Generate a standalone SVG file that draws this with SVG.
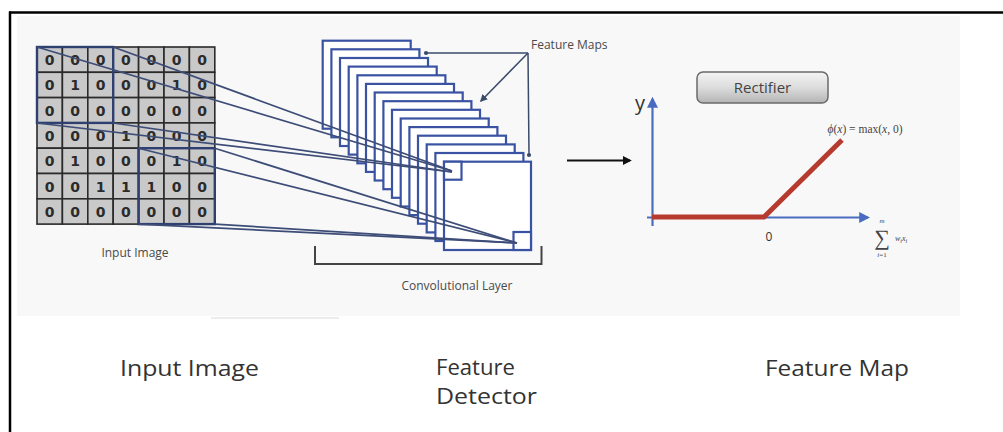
<svg xmlns="http://www.w3.org/2000/svg" width="1003" height="432" viewBox="0 0 1003 432">
  <defs>
    <linearGradient id="btnGrad" x1="0" y1="0" x2="0" y2="1">
      <stop offset="0" stop-color="#f4f4f4"/>
      <stop offset="0.5" stop-color="#dcdcdc"/>
      <stop offset="1" stop-color="#b4b4b4"/>
    </linearGradient>
    <marker id="axisHead" viewBox="0 0 10 10" refX="8" refY="5" markerWidth="5" markerHeight="5" orient="auto">
      <path d="M0,0 L10,5 L0,10 z" fill="#4a6cc0"/>
    </marker>
    <marker id="blackHead" viewBox="0 0 10 10" refX="8" refY="5" markerWidth="5" markerHeight="5" orient="auto">
      <path d="M0,0 L10,5 L0,10 z" fill="#111"/>
    </marker>
    <marker id="grayHead" viewBox="0 0 10 10" refX="8" refY="5" markerWidth="5" markerHeight="5" orient="auto">
      <path d="M0,0 L10,5 L0,10 z" fill="#3b4a6b"/>
    </marker>
    <marker id="dot" viewBox="0 0 10 10" refX="5" refY="5" markerWidth="3.5" markerHeight="3.5">
      <circle cx="5" cy="5" r="4" fill="#3b4a6b"/>
    </marker>
  </defs>
  <style>
    .cell { fill: #c9c9c9; stroke: #2a2a2a; stroke-width: 1.6; }
    .digit { font-family: "DejaVu Sans", "Liberation Sans", sans-serif; font-size: 14px; font-weight: bold; fill: #2b2b2b; text-anchor: middle; }
    .fmap { fill: #ffffff; stroke: #3a52a2; stroke-width: 2.2; }
    .link { stroke: #3d4d78; stroke-width: 1.7; fill: none; }
    .field { stroke: #2e3f70; stroke-width: 2.4; fill: none; }
    .small { font-family: "Open Sans", "Liberation Sans", sans-serif; font-size: 12px; fill: #4a4a4a; }
    .caption { font-family: "Open Sans", "Liberation Sans", sans-serif; font-size: 22px; fill: #333333; }
    .math { font-family: "Liberation Serif", serif; fill: #444; }
  </style>

  <!-- page frame -->
  <rect x="0" y="0" width="1003" height="432" fill="#ffffff"/>
  <rect x="17" y="16" width="943" height="300" fill="#f8f8f8"/>
  <rect x="211" y="317" width="128" height="2" fill="#ececec"/>
  <line x1="9" y1="12.5" x2="1003" y2="12.5" stroke="#000" stroke-width="2.5"/>
  <line x1="10" y1="11.5" x2="10" y2="432" stroke="#000" stroke-width="2.5"/>

  <!-- input image grid -->
  <g id="input-grid">
    <g>
      <rect class="cell" x="37" y="47" width="25.4" height="25.3"/><rect class="cell" x="62.4" y="47" width="25.4" height="25.3"/><rect class="cell" x="87.8" y="47" width="25.4" height="25.3"/><rect class="cell" x="113.2" y="47" width="25.4" height="25.3"/><rect class="cell" x="138.6" y="47" width="25.4" height="25.3"/><rect class="cell" x="164" y="47" width="25.4" height="25.3"/><rect class="cell" x="189.4" y="47" width="25.4" height="25.3"/>
      <rect class="cell" x="37" y="72.3" width="25.4" height="25.3"/><rect class="cell" x="62.4" y="72.3" width="25.4" height="25.3"/><rect class="cell" x="87.8" y="72.3" width="25.4" height="25.3"/><rect class="cell" x="113.2" y="72.3" width="25.4" height="25.3"/><rect class="cell" x="138.6" y="72.3" width="25.4" height="25.3"/><rect class="cell" x="164" y="72.3" width="25.4" height="25.3"/><rect class="cell" x="189.4" y="72.3" width="25.4" height="25.3"/>
      <rect class="cell" x="37" y="97.6" width="25.4" height="25.3"/><rect class="cell" x="62.4" y="97.6" width="25.4" height="25.3"/><rect class="cell" x="87.8" y="97.6" width="25.4" height="25.3"/><rect class="cell" x="113.2" y="97.6" width="25.4" height="25.3"/><rect class="cell" x="138.6" y="97.6" width="25.4" height="25.3"/><rect class="cell" x="164" y="97.6" width="25.4" height="25.3"/><rect class="cell" x="189.4" y="97.6" width="25.4" height="25.3"/>
      <rect class="cell" x="37" y="122.9" width="25.4" height="25.3"/><rect class="cell" x="62.4" y="122.9" width="25.4" height="25.3"/><rect class="cell" x="87.8" y="122.9" width="25.4" height="25.3"/><rect class="cell" x="113.2" y="122.9" width="25.4" height="25.3"/><rect class="cell" x="138.6" y="122.9" width="25.4" height="25.3"/><rect class="cell" x="164" y="122.9" width="25.4" height="25.3"/><rect class="cell" x="189.4" y="122.9" width="25.4" height="25.3"/>
      <rect class="cell" x="37" y="148.2" width="25.4" height="25.3"/><rect class="cell" x="62.4" y="148.2" width="25.4" height="25.3"/><rect class="cell" x="87.8" y="148.2" width="25.4" height="25.3"/><rect class="cell" x="113.2" y="148.2" width="25.4" height="25.3"/><rect class="cell" x="138.6" y="148.2" width="25.4" height="25.3"/><rect class="cell" x="164" y="148.2" width="25.4" height="25.3"/><rect class="cell" x="189.4" y="148.2" width="25.4" height="25.3"/>
      <rect class="cell" x="37" y="173.5" width="25.4" height="25.3"/><rect class="cell" x="62.4" y="173.5" width="25.4" height="25.3"/><rect class="cell" x="87.8" y="173.5" width="25.4" height="25.3"/><rect class="cell" x="113.2" y="173.5" width="25.4" height="25.3"/><rect class="cell" x="138.6" y="173.5" width="25.4" height="25.3"/><rect class="cell" x="164" y="173.5" width="25.4" height="25.3"/><rect class="cell" x="189.4" y="173.5" width="25.4" height="25.3"/>
      <rect class="cell" x="37" y="198.8" width="25.4" height="25.3"/><rect class="cell" x="62.4" y="198.8" width="25.4" height="25.3"/><rect class="cell" x="87.8" y="198.8" width="25.4" height="25.3"/><rect class="cell" x="113.2" y="198.8" width="25.4" height="25.3"/><rect class="cell" x="138.6" y="198.8" width="25.4" height="25.3"/><rect class="cell" x="164" y="198.8" width="25.4" height="25.3"/><rect class="cell" x="189.4" y="198.8" width="25.4" height="25.3"/>
    </g>
    <g>
      <text class="digit" x="49.7" y="65">0</text><text class="digit" x="75.1" y="65">0</text><text class="digit" x="100.5" y="65">0</text><text class="digit" x="125.9" y="65">0</text><text class="digit" x="151.3" y="65">0</text><text class="digit" x="176.7" y="65">0</text><text class="digit" x="202.1" y="65">0</text>
      <text class="digit" x="49.7" y="90.3">0</text><text class="digit" x="75.1" y="90.3">1</text><text class="digit" x="100.5" y="90.3">0</text><text class="digit" x="125.9" y="90.3">0</text><text class="digit" x="151.3" y="90.3">0</text><text class="digit" x="176.7" y="90.3">1</text><text class="digit" x="202.1" y="90.3">0</text>
      <text class="digit" x="49.7" y="115.6">0</text><text class="digit" x="75.1" y="115.6">0</text><text class="digit" x="100.5" y="115.6">0</text><text class="digit" x="125.9" y="115.6">0</text><text class="digit" x="151.3" y="115.6">0</text><text class="digit" x="176.7" y="115.6">0</text><text class="digit" x="202.1" y="115.6">0</text>
      <text class="digit" x="49.7" y="140.9">0</text><text class="digit" x="75.1" y="140.9">0</text><text class="digit" x="100.5" y="140.9">0</text><text class="digit" x="125.9" y="140.9">1</text><text class="digit" x="151.3" y="140.9">0</text><text class="digit" x="176.7" y="140.9">0</text><text class="digit" x="202.1" y="140.9">0</text>
      <text class="digit" x="49.7" y="166.2">0</text><text class="digit" x="75.1" y="166.2">1</text><text class="digit" x="100.5" y="166.2">0</text><text class="digit" x="125.9" y="166.2">0</text><text class="digit" x="151.3" y="166.2">0</text><text class="digit" x="176.7" y="166.2">1</text><text class="digit" x="202.1" y="166.2">0</text>
      <text class="digit" x="49.7" y="191.5">0</text><text class="digit" x="75.1" y="191.5">0</text><text class="digit" x="100.5" y="191.5">1</text><text class="digit" x="125.9" y="191.5">1</text><text class="digit" x="151.3" y="191.5">1</text><text class="digit" x="176.7" y="191.5">0</text><text class="digit" x="202.1" y="191.5">0</text>
      <text class="digit" x="49.7" y="216.8">0</text><text class="digit" x="75.1" y="216.8">0</text><text class="digit" x="100.5" y="216.8">0</text><text class="digit" x="125.9" y="216.8">0</text><text class="digit" x="151.3" y="216.8">0</text><text class="digit" x="176.7" y="216.8">0</text><text class="digit" x="202.1" y="216.8">0</text>
    </g>
    <!-- receptive fields -->
    <rect class="field" x="37" y="47" width="76.2" height="75.9"/>
    <rect class="field" x="138.6" y="148.2" width="76.2" height="75.9"/>
    <text class="small" x="135" y="257" text-anchor="middle">Input Image</text>
  </g>

  <!-- stacked feature maps -->
  <g id="feature-maps">
    <rect class="fmap" x="322.7" y="40.7" width="88" height="88"/>
    <rect class="fmap" x="331.4" y="49.3" width="88" height="88"/>
    <rect class="fmap" x="340.0" y="58.0" width="88" height="88"/>
    <rect class="fmap" x="348.7" y="66.6" width="88" height="88"/>
    <rect class="fmap" x="357.4" y="75.3" width="88" height="88"/>
    <rect class="fmap" x="366.0" y="83.9" width="88" height="88"/>
    <rect class="fmap" x="374.7" y="92.5" width="88" height="88"/>
    <rect class="fmap" x="383.4" y="101.2" width="88" height="88"/>
    <rect class="fmap" x="392.0" y="109.8" width="88" height="88"/>
    <rect class="fmap" x="400.7" y="118.5" width="88" height="88"/>
    <rect class="fmap" x="409.4" y="127.1" width="88" height="88"/>
    <rect class="fmap" x="418.0" y="135.7" width="88" height="88"/>
    <rect class="fmap" x="426.7" y="144.4" width="88" height="88"/>
    <rect class="fmap" x="435.4" y="153.0" width="88" height="88"/>
    <rect class="fmap" x="444.0" y="161.7" width="87" height="88.3"/>
    <rect class="fmap" x="444.0" y="161.7" width="17.5" height="18"/>
    <rect class="fmap" x="513.5" y="232" width="17.5" height="18"/>
  </g>

  <!-- connectors -->
  <g id="connectors">
    <line class="link" x1="37" y1="47" x2="452" y2="171"/>
    <line class="link" x1="113.2" y1="47" x2="452" y2="171"/>
    <line class="link" x1="37" y1="123" x2="452" y2="172"/>
    <line class="link" x1="113.2" y1="123" x2="452" y2="172"/>
    <line class="link" x1="138.6" y1="148.2" x2="517" y2="243"/>
    <line class="link" x1="214.8" y1="148.2" x2="517" y2="243"/>
    <line class="link" x1="138.6" y1="224.1" x2="517" y2="243"/>
    <line class="link" x1="214.8" y1="224.1" x2="517" y2="243"/>

    <!-- feature maps callout -->
    <line x1="528" y1="53" x2="426" y2="53" stroke="#3b4a6b" stroke-width="1.5" marker-end="url(#dot)"/>
    <line x1="528" y1="53" x2="481" y2="101" stroke="#3b4a6b" stroke-width="1.5" marker-end="url(#grayHead)"/>
    <line x1="528" y1="53" x2="529" y2="155" stroke="#3b4a6b" stroke-width="1.5" marker-end="url(#dot)"/>

    <!-- layer bracket -->
    <path d="M315,246 V264 H541.5 V246" fill="none" stroke="#444" stroke-width="2"/>

    <!-- to the rectifier -->
    <line x1="567" y1="160.5" x2="630" y2="160.5" stroke="#111" stroke-width="1.8" marker-end="url(#blackHead)"/>
  </g>

  <g id="feature-maps-label">
    <text class="small" x="531" y="49" font-size="11">Feature Maps</text>
  </g>
  <g id="layer-label">
    <text class="small" x="457" y="290" text-anchor="middle">Convolutional Layer</text>
  </g>

  <!-- rectifier button -->
  <g id="rectifier">
    <rect x="697" y="72" width="131" height="31" rx="6" fill="url(#btnGrad)" stroke="#6a6a6a" stroke-width="1.5"/>
    <text x="762.5" y="93" text-anchor="middle" font-family="Open Sans, Liberation Sans, sans-serif" font-size="15" fill="#444">Rectifier</text>
  </g>

  <!-- ReLU plot -->
  <g id="relu-plot">
    <line x1="652.5" y1="226" x2="652.5" y2="99" stroke="#4a6cc0" stroke-width="2.2" marker-end="url(#axisHead)"/>
    <line x1="647" y1="217.5" x2="868" y2="217.5" stroke="#4a6cc0" stroke-width="2.2" marker-end="url(#axisHead)"/>
    <polyline points="652,217 764,217 842,140" fill="none" stroke="#b63a2e" stroke-width="5"/>
    <text x="640" y="110" text-anchor="middle" font-family="Open Sans, Liberation Sans, sans-serif" font-size="20" fill="#333">y</text>
    <text x="769" y="241" text-anchor="middle" font-family="Open Sans, Liberation Sans, sans-serif" font-size="12" fill="#333">0</text>
    <text class="math" x="865" y="133" text-anchor="middle" font-size="11.5"><tspan font-style="italic">ϕ</tspan>(<tspan font-style="italic">x</tspan>) = max(<tspan font-style="italic">x</tspan>, 0)</text>
    <text class="math" x="882" y="223" text-anchor="middle" font-size="7" font-style="italic">m</text>
    <text class="math" x="882" y="245" text-anchor="middle" font-size="22">∑</text>
    <text class="math" x="882" y="257" text-anchor="middle" font-size="7"><tspan font-style="italic">i</tspan>=1</text>
    <text class="math" x="895" y="241" font-size="8" font-style="italic">w<tspan font-size="6" dy="1.5">i</tspan><tspan dy="-1.5">x</tspan><tspan font-size="6" dy="1.5">i</tspan></text>
  </g>

  <!-- captions -->
  <g id="caption-input">
    <text class="caption" x="120" y="376" textLength="139" lengthAdjust="spacingAndGlyphs">Input Image</text>
  </g>
  <g id="caption-detector">
    <text class="caption" x="436" y="375" textLength="79" lengthAdjust="spacingAndGlyphs">Feature</text>
    <text class="caption" x="436" y="404" textLength="101" lengthAdjust="spacingAndGlyphs">Detector</text>
  </g>
  <g id="caption-map">
    <text class="caption" x="765" y="376" textLength="144" lengthAdjust="spacingAndGlyphs">Feature Map</text>
  </g>
</svg>
